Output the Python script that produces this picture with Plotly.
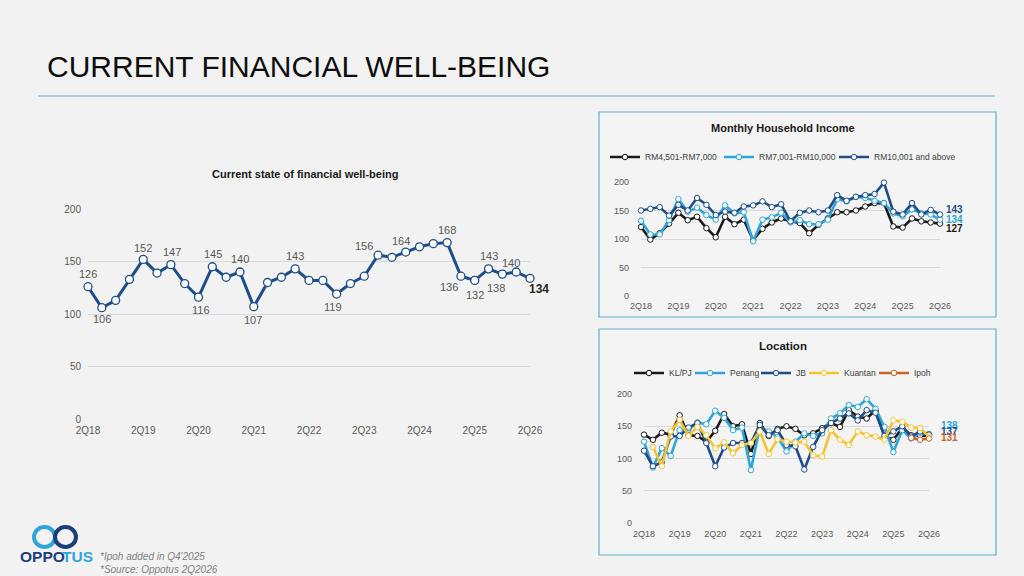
import plotly.graph_objs as go

# quarters shown on every chart (2Q18 .. 2Q26)
quarters = ['2Q18', '3Q18', '4Q18', '1Q19', '2Q19', '3Q19', '4Q19', '1Q20', '2Q20', '3Q20', '4Q20',
            '1Q21', '2Q21', '3Q21', '4Q21', '1Q22', '2Q22', '3Q22', '4Q22', '1Q23', '2Q23', '3Q23',
            '4Q23', '1Q24', '2Q24', '3Q24', '4Q24', '1Q25', '2Q25', '3Q25', '4Q25', '1Q26', '2Q26']
tick_labels = ['2Q18', '2Q19', '2Q20', '2Q21', '2Q22', '2Q23', '2Q24', '2Q25', '2Q26']

wellbeing = [126, 106, 113, 133, 152, 139, 147, 129, 116, 145, 135, 140, 107, 130, 135, 143, 132,
             132, 119, 129, 136, 156, 154, 159, 164, 167, 168, 136, 132, 143, 138, 140, 134]

income_4501_7000 = [121, 99, 110, 127, 146, 133, 139, 119, 103, 139, 126, 134, 98, 118, 129, 136, 131,
                    128, 110, 125, 136, 147, 147, 150, 157, 163, 163, 122, 120, 136, 131, 129, 127]
income_7001_10000 = [132, 108, 108, 133, 170, 148, 155, 142, 134, 159, 145, 147, 96, 134, 138, 146, 129,
                     133, 126, 126, 134, 170, 166, 174, 172, 167, 163, 145, 140, 152, 145, 143, 134]
income_10001_up = [150, 153, 156, 141, 160, 150, 172, 160, 142, 148, 146, 157, 159, 166, 156, 161, 131,
                   146, 150, 147, 150, 177, 167, 174, 177, 179, 199, 148, 143, 163, 143, 151, 143]

loc_klpj = [137, 129, 140, 137, 167, 136, 135, 126, 143, 169, 150, 153, 107, 155, 135, 146, 150,
            146, 136, 139, 147, 155, 149, 175, 165, 162, 175, 134, 129, 147, 136, 136, 135]
loc_penang = [126, 86, 116, 104, 144, 145, 156, 153, 174, 163, 144, 148, 82, 148, 142, 133, 111,
              126, 139, 135, 139, 162, 170, 183, 180, 192, 177, 149, 110, 144, 131, 140, 138]
loc_jb = [112, 88, 94, 134, 135, 148, 155, 124, 88, 117, 124, 124, 124, 152, 136, 144, 121,
          119, 83, 118, 144, 155, 162, 170, 159, 175, 171, 135, 142, 150, 134, 142, 137]
loc_kuantan = [None, 118, 88, 142, 160, 135, 149, 136, 116, 125, 108, 121, 124, 142, 107, 130, 126,
               125, 126, 105, 103, 144, 129, 121, 142, 136, 134, 129, 159, 157, 148, 147, 134]
loc_ipoh = [None] * 30 + [132, 129, 131]

# which points of the main chart carry a value label, and where (xshift, yshift in px)
label_pos = {0: (0, 13), 1: (0, -11), 4: (0, 11), 6: (1, 13), 8: (2, -13), 9: (1, 13), 11: (0, 13),
             12: (-1, -13), 15: (0, 13), 18: (-4, -13), 21: (-14, 9), 24: (-19, 6), 26: (0, 13),
             27: (-12, -11), 28: (0, -15), 29: (0, 13), 30: (-6, -14), 31: (-5, 9)}

FONT = 'Liberation Sans'
BG = '#f2f2f2'
GRID = '#d9d9d9'
TICK = '#595959'
NAVY = '#1d4e89'
CYAN = '#2ea6d9'
BLACK = '#1a1a1a'
GOLD = '#f5c230'
RUST = '#c8632a'

W, H = 1024, 576


def px(x0, x1, y0, y1):
    # pixel box -> paper domains
    return [x0 / W, x1 / W], [1 - y1 / H, 1 - y0 / H]


def note(x, y, text, size, color='#1a1a1a', xanchor='center'):
    # text placed by pixel position on the slide
    return dict(x=x / W, y=1 - y / H, xref='paper', yref='paper', xanchor=xanchor, yanchor='middle',
                text=text, showarrow=False, font=dict(family=FONT, size=size, color=color))


fig = go.Figure()

# main chart
fig.add_trace(go.Scatter(
    x=quarters, y=wellbeing, mode='lines+markers', cliponaxis=False, showlegend=False,
    line=dict(color=NAVY, width=3),
    marker=dict(size=8, color='white', line=dict(color=NAVY, width=1.3)),
    xaxis='x', yaxis='y'))


def small_line(x, y, name, color, xa, ya, legend):
    return go.Scatter(
        x=x, y=y, name=name, mode='lines+markers', cliponaxis=False,
        line=dict(color=color, width=2.6),
        marker=dict(size=5.5, color='white', line=dict(color=color, width=1)),
        xaxis=xa, yaxis=ya, legend=legend)


# each legend entry gets its own legend box so it can sit where the slide has it
fig.add_trace(small_line(quarters, income_4501_7000, 'RM4,501-RM7,000', BLACK, 'x2', 'y2', 'legend'))
fig.add_trace(small_line(quarters, income_7001_10000, 'RM7,001-RM10,000', CYAN, 'x2', 'y2', 'legend2'))
fig.add_trace(small_line(quarters, income_10001_up, 'RM10,001 and above', NAVY, 'x2', 'y2', 'legend3'))

fig.add_trace(small_line(quarters, loc_klpj, 'KL/PJ', BLACK, 'x3', 'y3', 'legend4'))
fig.add_trace(small_line(quarters, loc_penang, 'Penang', CYAN, 'x3', 'y3', 'legend5'))
fig.add_trace(small_line(quarters, loc_jb, 'JB', NAVY, 'x3', 'y3', 'legend6'))
fig.add_trace(small_line(quarters, loc_kuantan, 'Kuantan', GOLD, 'x3', 'y3', 'legend7'))
fig.add_trace(small_line(quarters, loc_ipoh, 'Ipoh', RUST, 'x3', 'y3', 'legend8'))

annotations = []
for i, (dx, dy) in label_pos.items():
    annotations.append(dict(x=quarters[i], y=wellbeing[i], xref='x', yref='y', text=str(wellbeing[i]),
                            showarrow=False, xshift=dx, yshift=dy,
                            font=dict(family=FONT, size=11, color=TICK)))
annotations.append(dict(x=quarters[-1], y=wellbeing[-1], xref='x', yref='y', text='<b>%d</b>' % wellbeing[-1],
                        showarrow=False, xanchor='left', xshift=-3, yshift=-11,
                        font=dict(family=FONT, size=12, color='#262626')))

# end labels of the two small charts
for series, color, dy in [(income_10001_up, NAVY, 5), (income_7001_10000, CYAN, 0), (income_4501_7000, BLACK, -5)]:
    annotations.append(dict(x=quarters[-1], y=series[-1], xref='x2', yref='y2', text='<b>%d</b>' % series[-1],
                            showarrow=False, xanchor='left', xshift=4, yshift=dy,
                            font=dict(family=FONT, size=10, color=color)))
for series, color, dy in [(loc_penang, CYAN, 8), (loc_jb, NAVY, 3), (loc_ipoh, RUST, 1)]:
    annotations.append(dict(x=quarters[-1], y=series[-1], xref='x3', yref='y3', text='<b>%d</b>' % series[-1],
                            showarrow=False, xanchor='left', xshift=10, yshift=dy,
                            font=dict(family=FONT, size=10, color=color)))

# titles, footnotes, logo wordmark
annotations += [
    note(45, 66, 'CURRENT FINANCIAL WELL-BEING', 30, '#0d0d0d', xanchor='left'),
    note(305, 174, '<b>Current state of financial well-being</b>', 11),
    note(783, 128, '<b>Monthly Household Income</b>', 11),
    note(783, 346, '<b>Location</b>', 11.5),
    note(98, 556, "<i>*Ipoh added in Q4'2025</i>", 10, '#7f7f7f', xanchor='left'),
    note(98, 569, '<i>*Source: Oppotus 2Q2026</i>', 10, '#7f7f7f', xanchor='left'),
    note(67, 556, '<b>OPPO</b>', 15.5, '#1b3f7a', xanchor='right'),
    note(60, 556, '<b>TUS</b>', 15.5, '#2ea6d9', xanchor='left'),
]

shapes = [
    # rule under the title
    dict(type='line', xref='paper', yref='paper', x0=38 / W, x1=995 / W, y0=1 - 96 / H, y1=1 - 96 / H,
         line=dict(color='#6aaecb', width=1)),
    # boxes round the two small charts
    dict(type='rect', xref='paper', yref='paper', x0=599 / W, x1=996 / W, y0=1 - 317 / H, y1=1 - 112 / H,
         line=dict(color='#5fb0c8', width=1.2), fillcolor='#f4f4f4', layer='below'),
    dict(type='rect', xref='paper', yref='paper', x0=599 / W, x1=996 / W, y0=1 - 555 / H, y1=1 - 329 / H,
         line=dict(color='#5fb0c8', width=1.2), fillcolor='#f4f4f4', layer='below'),
    # logo rings
    dict(type='circle', xref='paper', yref='paper', x0=34 / W, x1=55 / W, y0=1 - 547 / H, y1=1 - 527 / H,
         line=dict(color='#2ea6d9', width=4)),
    dict(type='circle', xref='paper', yref='paper', x0=55 / W, x1=76 / W, y0=1 - 547 / H, y1=1 - 527 / H,
         line=dict(color='#1b3f7a', width=4)),
]

xd1, yd1 = px(88, 530, 209, 419)
xd2, yd2 = px(641, 940, 182, 296)
xd3, yd3 = px(644, 929, 394, 523)

xcommon = dict(type='category', range=[0, 32], tickmode='array', tickvals=tick_labels, showgrid=False,
               zeroline=False, showline=False, ticks='', automargin=False,
               tickfont=dict(family=FONT, size=10, color=TICK))
ycommon = dict(range=[0, 200], tickvals=[0, 50, 100, 150, 200], gridcolor=GRID, gridwidth=1, zeroline=False,
               showline=False, ticks='', automargin=False, tickfont=dict(family=FONT, size=10, color=TICK))


def legend_at(text_x, y):
    # legend box whose label text starts near text_x (px)
    return dict(orientation='h', xanchor='left', yanchor='middle', x=(text_x - 38) / W, y=1 - y / H,
                bgcolor='rgba(0,0,0,0)', itemwidth=30, font=dict(family=FONT, size=8.5, color='#404040'),
                itemclick=False, itemdoubleclick=False)


small_tick = dict(family=FONT, size=9, color=TICK)

fig.update_layout(
    width=W, height=H,
    margin={'b': 0, 't': 0, 'l': 0, 'r': 0, 'pad': 0, 'autoexpand': False},
    paper_bgcolor=BG, plot_bgcolor='rgba(0,0,0,0)',
    xaxis=dict(xcommon, domain=xd1, anchor='y', ticklabelstandoff=4),
    yaxis=dict(ycommon, domain=yd1, anchor='x', ticklabelstandoff=6),
    xaxis2=dict(xcommon, domain=xd2, anchor='y2', tickfont=small_tick, ticklabelstandoff=3),
    yaxis2=dict(ycommon, domain=yd2, anchor='x2', tickfont=small_tick, ticklabelstandoff=11),
    xaxis3=dict(xcommon, domain=xd3, anchor='y3', tickfont=small_tick, ticklabelstandoff=4),
    yaxis3=dict(ycommon, domain=yd3, anchor='x3', tickfont=small_tick, ticklabelstandoff=11),
    legend=legend_at(643, 157),
    legend2=legend_at(757, 157),
    legend3=legend_at(872, 157),
    legend4=legend_at(667, 373),
    legend5=legend_at(728, 373),
    legend6=legend_at(794, 373),
    legend7=legend_at(842, 373),
    legend8=legend_at(912, 373),
    annotations=annotations,
    shapes=shapes,
    hovermode='closest',
)

fig.write_html('out.html', config={'displayModeBar': False},
               post_script="document.body.style.margin='0';")
